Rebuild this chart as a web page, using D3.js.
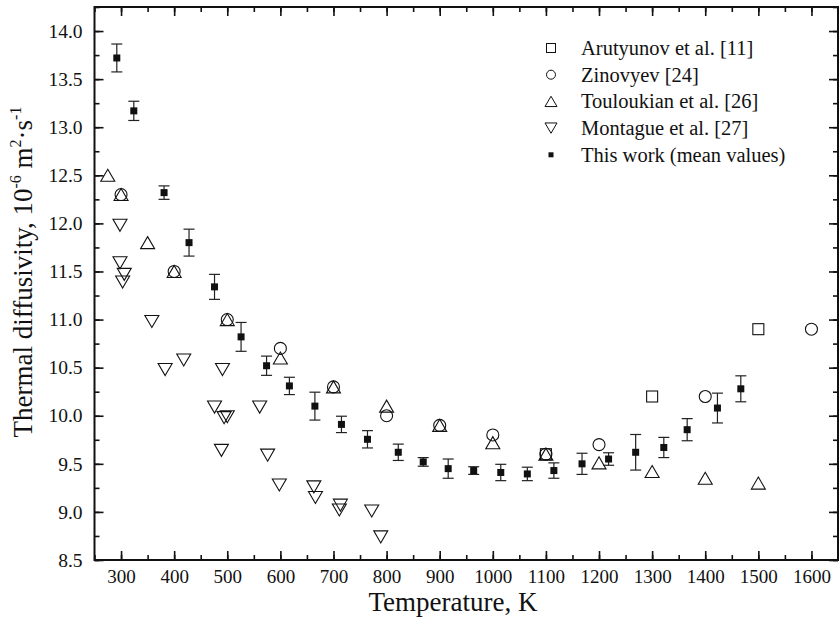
<!DOCTYPE html>
<html>
<head>
<meta charset="utf-8">
<script src="https://cdn.jsdelivr.net/npm/d3@7"></script>
<style>
  body { margin: 0; background: #fff; }
  svg text { font-family: "Liberation Serif", "Times New Roman", serif; fill: #111; }
</style>
</head>
<body>
<div id="chart"></div>
<script>
// data
const arutyunovT = [1100, 1300, 1500];
const arutyunovV = [9.6, 10.2, 10.9];

const zinovyevT = [300, 400, 500, 600, 700, 800, 900, 1000, 1100, 1200, 1400, 1600];
const zinovyevV = [12.3, 11.5, 11.0, 10.7, 10.3, 10.0, 9.9, 9.8, 9.6, 9.7, 10.2, 10.9];

const touloukianT = [275, 300, 350, 400, 500, 600, 700, 800, 900, 1000, 1100, 1200, 1300, 1400, 1500];
const touloukianV = [12.5, 12.3, 11.8, 11.5, 11.0, 10.6, 10.3, 10.1, 9.9, 9.72, 9.6, 9.51, 9.42, 9.35, 9.3];

const montagueT = [298, 298, 306, 303, 358, 383, 418, 491, 476, 494, 500, 489, 561, 576, 598, 663, 666, 713, 711, 772, 789];
const montagueV = [11.98, 11.59, 11.47, 11.39, 10.98, 10.48, 10.58, 10.48, 10.09, 9.98, 9.99, 9.64, 10.09, 9.59, 9.28, 9.26, 9.15, 9.07, 9.02, 9.01, 8.74];

const workT = [292, 324, 381, 428, 476, 526, 574, 617, 665, 715, 764, 822, 869, 916, 964, 1015, 1065, 1115, 1168, 1218, 1269, 1322, 1366, 1423, 1467];
const workV = [13.72, 13.17, 12.32, 11.80, 11.34, 10.82, 10.52, 10.31, 10.10, 9.91, 9.755, 9.62, 9.52, 9.45, 9.43, 9.41, 9.395, 9.43, 9.50, 9.55, 9.62, 9.67, 9.855, 10.08, 10.28];
const workErr = [0.145, 0.10, 0.07, 0.14, 0.13, 0.15, 0.10, 0.09, 0.145, 0.085, 0.09, 0.085, 0.045, 0.10, 0.04, 0.085, 0.07, 0.08, 0.11, 0.065, 0.185, 0.105, 0.115, 0.155, 0.135];

const xTicks = [300, 400, 500, 600, 700, 800, 900, 1000, 1100, 1200, 1300, 1400, 1500, 1600];
const yTicks = [8.5, 9.0, 9.5, 10.0, 10.5, 11.0, 11.5, 12.0, 12.5, 13.0, 13.5, 14.0];

const legendLabels = ["Arutyunov et al. [11]", "Zinovyev [24]", "Touloukian et al. [26]", "Montague et al. [27]", "This work (mean values)"];

const W = 839, H = 618;
const pL = 94.5, pR = 838, pT = 7, pB = 560;

const svg = d3.select("#chart").append("svg")
  .attr("width", W).attr("height", H);

const x = d3.scaleLinear().domain([250, 1650]).range([pL, pR]);
const y = d3.scaleLinear().domain([8.5, 14.25]).range([pB, pT]);

// axes with inward ticks
const xMinor = d3.range(250, 1651, 50);
const yMinor = d3.range(8.5, 14.26, 0.25);
const major = 9, minor = 5;

svg.append("g").attr("transform", `translate(0,${pB})`)
  .call(d3.axisBottom(x).tickValues(xMinor).tickSize(-minor).tickFormat(""));
const axB2 = svg.append("g").attr("transform", `translate(0,${pB})`)
  .call(d3.axisBottom(x).tickValues(xTicks).tickSize(-major).tickPadding(major + 4).tickFormat(d3.format("d")));
svg.append("g").attr("transform", `translate(0,${pT})`)
  .call(d3.axisTop(x).tickValues(xMinor).tickSize(-minor).tickFormat(""));
svg.append("g").attr("transform", `translate(0,${pT})`)
  .call(d3.axisTop(x).tickValues(xTicks).tickSize(-major).tickFormat(""));
svg.append("g").attr("transform", `translate(${pL},0)`)
  .call(d3.axisLeft(y).tickValues(yMinor).tickSize(-minor).tickFormat(""));
const axL2 = svg.append("g").attr("transform", `translate(${pL},0)`)
  .call(d3.axisLeft(y).tickValues(yTicks).tickSize(-major).tickPadding(major + 3).tickFormat(d3.format(".1f")));
svg.append("g").attr("transform", `translate(${pR},0)`)
  .call(d3.axisRight(y).tickValues(yMinor).tickSize(-minor).tickFormat(""));
svg.append("g").attr("transform", `translate(${pR},0)`)
  .call(d3.axisRight(y).tickValues(yTicks).tickSize(-major).tickFormat(""));

svg.selectAll(".domain").remove();
svg.selectAll(".tick line").attr("stroke", "#111").attr("stroke-width", 1.6);
axB2.selectAll("text").style("font-size", "19px").attr("dy", "0.55em");
axL2.selectAll("text").style("font-size", "19.5px");

// frame
svg.append("rect")
  .attr("x", pL).attr("y", pT)
  .attr("width", pR - pL).attr("height", pB - pT)
  .attr("fill", "none").attr("stroke", "#111").attr("stroke-width", 2);

// marker paths
function triUp(s) { const h = s * 0.86; return `M0,${-h / 2}L${s / 2},${h / 2}L${-s / 2},${h / 2}Z`; }
function triDown(s) { const h = s * 0.86; return `M0,${h / 2}L${s / 2},${-h / 2}L${-s / 2},${-h / 2}Z`; }

const plot = svg.append("g");

function zip(a, b) { return a.map((t, i) => [t, b[i]]); }

plot.selectAll(".aru").data(zip(arutyunovT, arutyunovV)).join("rect")
  .attr("x", d => x(d[0]) - 5.5).attr("y", d => y(d[1]) - 5.5)
  .attr("width", 11).attr("height", 11)
  .attr("fill", "none").attr("stroke", "#111").attr("stroke-width", 1.1);

plot.selectAll(".zin").data(zip(zinovyevT, zinovyevV)).join("circle")
  .attr("cx", d => x(d[0])).attr("cy", d => y(d[1])).attr("r", 6)
  .attr("fill", "none").attr("stroke", "#111").attr("stroke-width", 1.1);

plot.selectAll(".tou").data(zip(touloukianT, touloukianV)).join("path")
  .attr("transform", d => `translate(${x(d[0])},${y(d[1])})`)
  .attr("d", triUp(14))
  .attr("fill", "none").attr("stroke", "#111").attr("stroke-width", 1.1);

plot.selectAll(".mon").data(zip(montagueT, montagueV)).join("path")
  .attr("transform", d => `translate(${x(d[0])},${y(d[1])})`)
  .attr("d", triDown(14))
  .attr("fill", "none").attr("stroke", "#111").attr("stroke-width", 1.1);

// this work with error bars
const work = workT.map((t, i) => ({ t, v: workV[i], e: workErr[i] }));
const eb = plot.selectAll(".eb").data(work).join("g")
  .attr("transform", d => `translate(${x(d.t)},0)`);
eb.append("line").attr("x1", 0).attr("x2", 0)
  .attr("y1", d => y(d.v + d.e)).attr("y2", d => y(d.v - d.e))
  .attr("stroke", "#222").attr("stroke-width", 1.2);
eb.append("line").attr("x1", -5.5).attr("x2", 5.5)
  .attr("y1", d => y(d.v + d.e)).attr("y2", d => y(d.v + d.e))
  .attr("stroke", "#222").attr("stroke-width", 1.2);
eb.append("line").attr("x1", -5.5).attr("x2", 5.5)
  .attr("y1", d => y(d.v - d.e)).attr("y2", d => y(d.v - d.e))
  .attr("stroke", "#222").attr("stroke-width", 1.2);
eb.append("rect").attr("x", -3.5).attr("y", d => y(d.v) - 3.5)
  .attr("width", 7).attr("height", 7).attr("fill", "#111");

// legend
const lg = svg.append("g").attr("transform", "translate(551,48)");
const rowH = 26.7;
lg.selectAll("text").data(legendLabels).join("text")
  .attr("x", 30).attr("y", (d, i) => i * rowH + 7)
  .style("font-size", "20.5px").text(d => d);
lg.append("rect").attr("x", -4.5).attr("y", -4.5).attr("width", 9).attr("height", 9)
  .attr("fill", "none").attr("stroke", "#111");
lg.append("circle").attr("cx", 0).attr("cy", rowH).attr("r", 4.5)
  .attr("fill", "none").attr("stroke", "#111");
lg.append("path").attr("transform", `translate(0,${2 * rowH})`).attr("d", triUp(12))
  .attr("fill", "none").attr("stroke", "#111");
lg.append("path").attr("transform", `translate(0,${3 * rowH})`).attr("d", triDown(12))
  .attr("fill", "none").attr("stroke", "#111");
lg.append("rect").attr("x", -2.5).attr("y", 4 * rowH - 2.5).attr("width", 5).attr("height", 5)
  .attr("fill", "#111");

// axis titles
svg.append("text")
  .attr("x", 453).attr("y", 611)
  .attr("text-anchor", "middle").style("font-size", "27px")
  .text("Temperature, K");

const yt = svg.append("text")
  .attr("transform", "translate(32,272) rotate(-90)")
  .attr("text-anchor", "middle").style("font-size", "27px");
yt.append("tspan").text("Thermal diffusivity, 10");
yt.append("tspan").attr("dy", -11).style("font-size", "16px").text("-6");
yt.append("tspan").attr("dy", 11).text(" m");
yt.append("tspan").attr("dy", -11).style("font-size", "16px").text("2");
yt.append("tspan").attr("dy", 11).text("·s");
yt.append("tspan").attr("dy", -11).style("font-size", "16px").text("-1");
</script>
</body>
</html>
